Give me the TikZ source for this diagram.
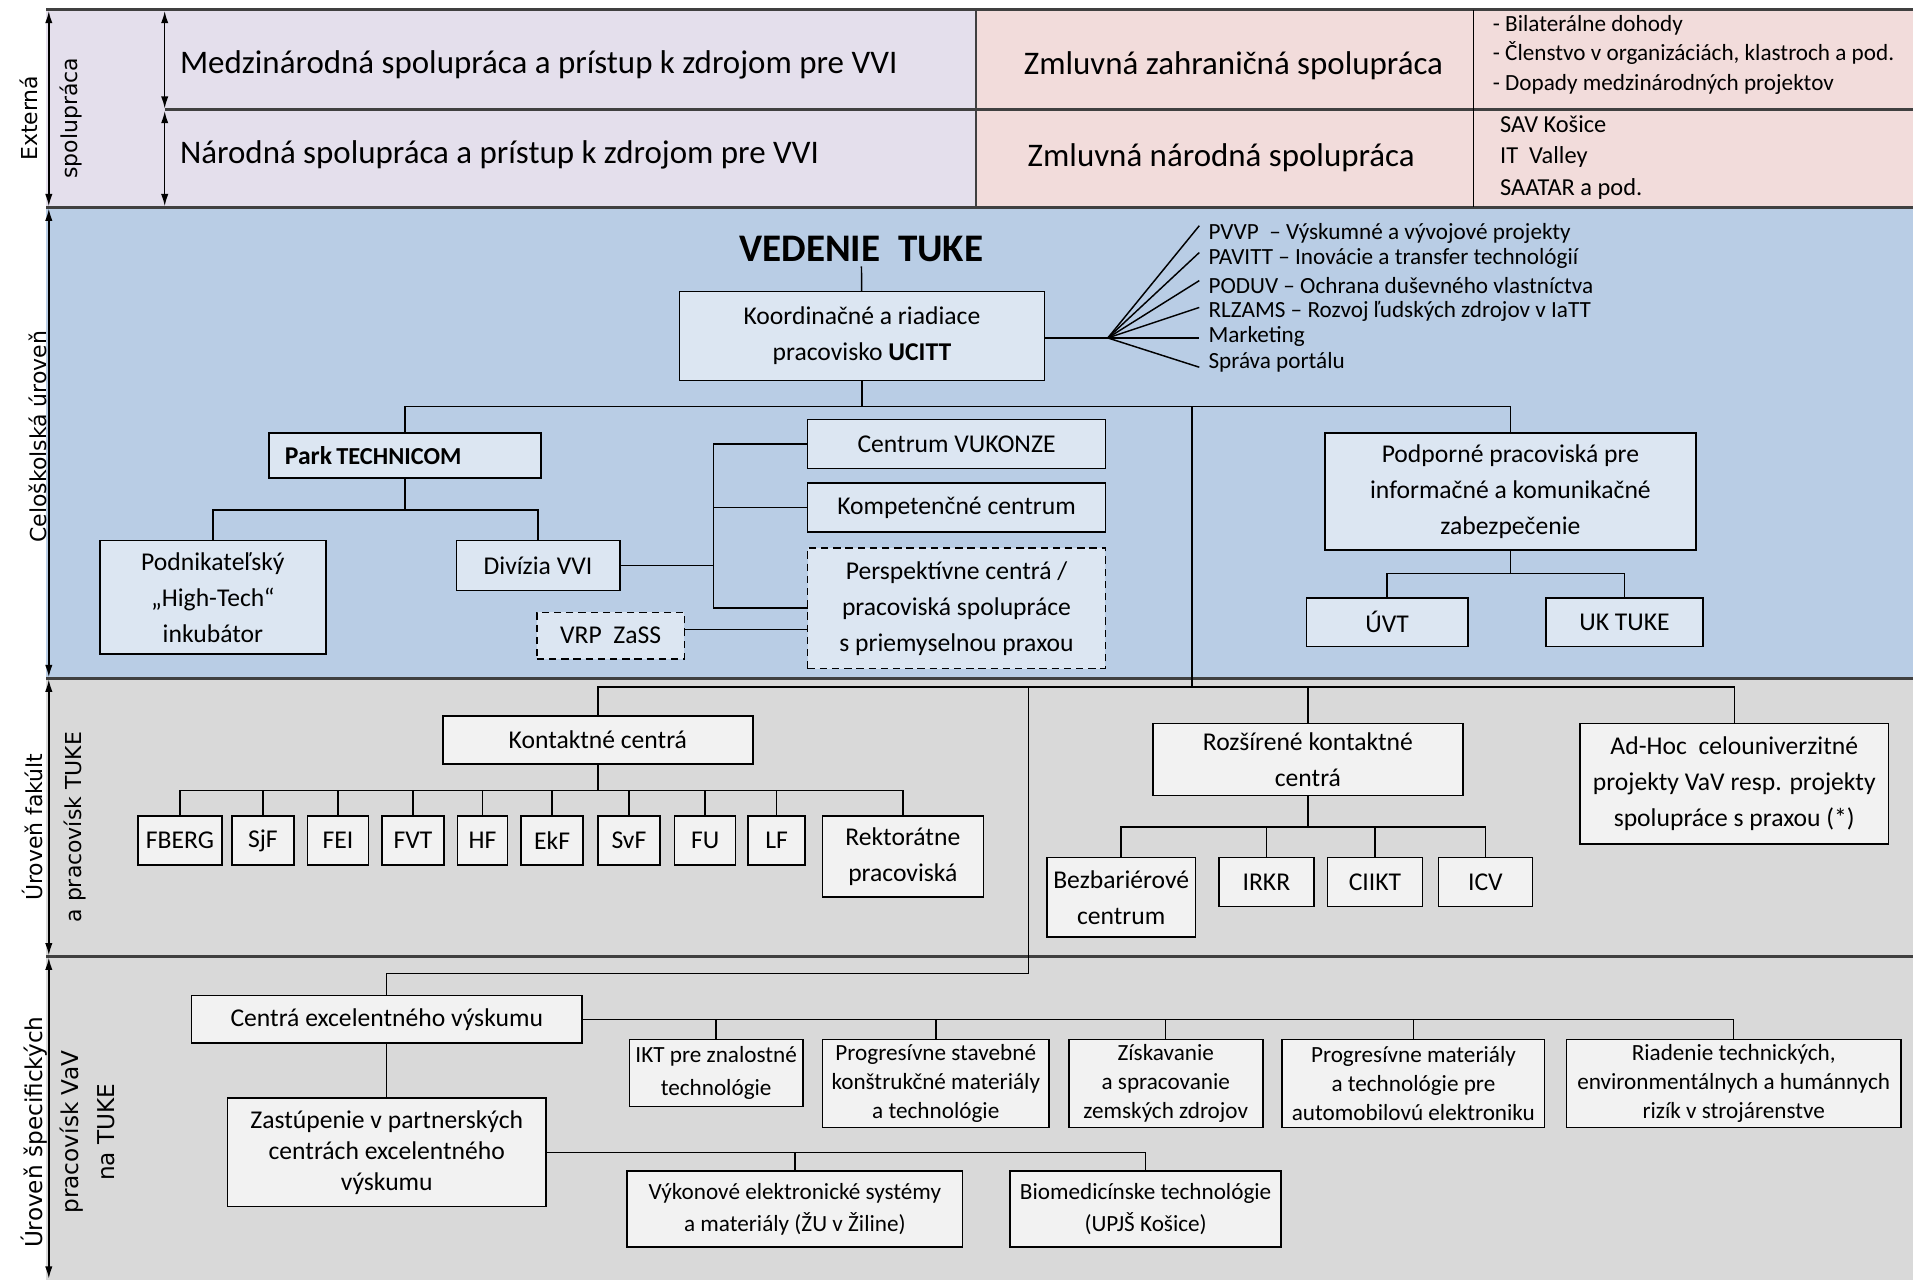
\documentclass[tikz,border=0pt]{standalone}
\usepackage{fontspec}
\setmainfont{Carlito}
\newfontfamily\sidefont{DejaVu Sans}
\usetikzlibrary{positioning, arrows.meta}
\tikzset{every picture/.style={line width=1.2pt}}
\definecolor{ext-lav}{RGB}{228,223,236}
\definecolor{ext-pink}{RGB}{242,220,219}
\definecolor{cel-blue}{RGB}{185,205,229}
\definecolor{fak-gray}{RGB}{217,217,217}
\definecolor{box-blue}{RGB}{220,230,242}
\definecolor{box-gray}{RGB}{242,242,242}
\definecolor{line-gray}{RGB}{64,64,64}

\begin{document}
\begin{tikzpicture}
    [x=1pt, y=-1pt,
    rect/.style = {rectangle, draw, align=center, inner sep=0pt, outer sep=0pt,
            line width=1.3pt, fill=box-blue, font=\fontsize{21}{29.5}\selectfont},
    grect/.style = {rect, fill=box-gray},
    small-txt/.style = {font=\fontsize{19}{23.5}\selectfont},
    dash-box/.style = {dash pattern=on 6pt off 4pt},
    band-line/.style = {draw=line-gray, line width=2.6pt},
    lvl-arrow/.style = {{Latex[length=10pt,width=6pt]}-{Latex[length=10pt,width=6pt]}, line width=1.2pt},
    side-lbl/.style = {rotate=90, align=center, inner sep=0pt},
    txt/.style = {inner sep=0pt},
    fan-lbl/.style = {anchor=west, inner sep=0pt, font=\fontsize{19}{21}\selectfont},
    ]
    \useasboundingbox (0,0) rectangle (1568,1049.2);

    % bands
    \fill[ext-lav] (38,8) rectangle (800,170);
    \fill[ext-pink] (800,8) rectangle (1568,170);
    \fill[cel-blue] (38,170) rectangle (1568,556);
    \fill[fak-gray] (38,556) rectangle (1568,1049.2);
    \draw[band-line] (38,8) -- (1568,8);
    \draw[band-line] (135,90) -- (1568,90);
    \draw[band-line] (38,170) -- (1568,170);
    \draw[band-line] (38,556) -- (1568,556);
    \draw[band-line] (38,784) -- (1568,784);
    \draw[line-gray, line width=2pt] (800,8) -- (800,170);
    \draw[line width=1pt] (1208,8) -- (1208,170);

    \draw[lvl-arrow] (40,9) -- (40,169);
    \draw[lvl-arrow] (135,9) -- (135,89);
    \draw[lvl-arrow] (135,91) -- (135,169);
    \draw[lvl-arrow] (40,171) -- (40,555);
    \draw[lvl-arrow] (40,557) -- (40,783);
    \draw[lvl-arrow] (40,785) -- (40,1048);

    \node[side-lbl, font=\sidefont\fontsize{18}{33}\selectfont] (ext-lbl) at (42,97) {Externá\\spolupráca};
    \node[side-lbl, font=\sidefont\fontsize{18}{22}\selectfont] (cel-lbl) at (31,358) {Celoškolská úroveň};
    \node[side-lbl, font=\sidefont\fontsize{18}{32}\selectfont] (fak-lbl) at (44,678) {Úroveň fakúlt\\a pracovísk TUKE};
    \node[side-lbl, font=\sidefont\fontsize{19}{29.5}\selectfont] (spec-lbl) at (56,928) {Úroveň špecifických\\pracovísk VaV\\na TUKE};

    % externa spolupraca
    \node[txt, anchor=west, font=\fontsize{27}{30}\selectfont] (medz-txt) at (147,53) {Medzinárodná spolupráca a prístup k zdrojom pre VVI};
    \node[txt, anchor=west, font=\fontsize{27}{30}\selectfont] (nar-txt) at (147,127) {Národná spolupráca a prístup k zdrojom pre VVI};
    \node[txt, font=\fontsize{27}{30}\selectfont] (zahr-txt) at (1011,54) {Zmluvná zahraničná spolupráca};
    \node[txt, font=\fontsize{27}{30}\selectfont] (narz-txt) at (1001,129) {Zmluvná národná spolupráca};
    \node[txt, anchor=west, align=left, font=\fontsize{19}{24}\selectfont] (zahr-list) at (1223,45) {- Bilaterálne dohody\\- Členstvo v organizáciách, klastroch a pod.\\- Dopady medzinárodných projektov};
    \node[txt, anchor=west, align=left, font=\fontsize{20}{26}\selectfont] (narz-list) at (1229,129) {SAV Košice\\IT\ \ Valley\\SAATAR a pod.};

    % celoskolska uroven
    \node[font=\bfseries\fontsize{32}{36}\selectfont] (vedenie) at (706,204) {VEDENIE\ \ TUKE};
    \node[rect, minimum width=299pt, minimum height=73pt] (ucitt) at (706.5,275.5) {Koordinačné a riadiace\\pracovisko \textbf{UCITT}};
    \draw (vedenie) -- (ucitt);

    \coordinate (fan) at (908,277);
    \draw (ucitt.east |- fan) -- (fan);
    \node[fan-lbl] (pvvp) at (990,191) {PVVP\ \ – Výskumné a vývojové projekty};
    \node[fan-lbl] (pavitt) at (990,212) {PAVITT – Inovácie a transfer technológií};
    \node[fan-lbl] (poduv) at (990,234) {PODUV – Ochrana duševného vlastníctva};
    \node[fan-lbl] (rlzams) at (990,255) {RLZAMS – Rozvoj ľudských zdrojov v IaTT};
    \node[fan-lbl] (market) at (990,276) {Marketing};
    \node[fan-lbl] (portal) at (990,297) {Správa portálu};
    \foreach \l/\dy in {pvvp/6, pavitt/5, poduv/4, rlzams/3, market/-1, portal/-4}
        \draw (fan) -- ([shift={(-7pt,\dy pt)}]\l.west);

    \coordinate (j-top) at (706.5,333);
    \draw (ucitt) -- (j-top);
    \node[rect, minimum width=223pt, minimum height=37pt, text width=197pt, align=left] (park) at (332,373.5) {\textbf{Park}\,{\bfseries\fontsize{20}{22}\selectfont TECHNICOM}};
    \node[rect, minimum width=304pt, minimum height=96pt] (podporne) at (1238,403) {Podporné pracoviská pre\\informačné a komunikačné\\zabezpečenie};
    \draw (park.north) |- (j-top) -| (podporne.north);

    \coordinate (j-cel) at (977,333);
    \coordinate (j-fak) at (977,563);
    \draw (j-cel) -- (j-fak);

    \node[rect, minimum width=185pt, minimum height=93pt] (podnik) at (174.5,489.5) {Podnikateľský\\„High-Tech“\\inkubátor};
    \node[rect, minimum width=134pt, minimum height=41pt] (divizia) at (441,463.5) {Divízia VVI};
    \coordinate (j-park) at (332,418);
    \draw (park) -- (j-park);
    \draw (podnik.north) |- (j-park) -| (divizia.north);

    \node[rect, minimum width=244pt, minimum height=40pt] (vukonze) at (784,364) {Centrum VUKONZE};
    \node[rect, minimum width=244pt, minimum height=40pt, below=12pt of vukonze] (kompet) {Kompetenčné centrum};
    \node[rect, dash-box, minimum width=244pt, minimum height=99pt, below=13pt of kompet] (persp) {Perspektívne centrá /\\pracoviská spolupráce\\s priemyselnou praxou};
    \coordinate (j-div) at (585,463.5);
    \draw (divizia) -- (j-div);
    \draw (j-div) |- (vukonze.west);
    \draw (j-div) |- (kompet.west);
    \draw (j-div) |- (persp.west);

    \node[rect, dash-box, minimum width=121pt, minimum height=38pt] (vrp) at (500.5,521) {VRP\ \ ZaSS};
    \draw ([yshift=5pt]vrp.east) -- ([yshift=5pt]vrp.east -| persp.west);

    \node[rect, minimum width=132pt, minimum height=40pt] (uvt) at (1137,510) {ÚVT};
    \node[rect, minimum width=129pt, minimum height=40pt] (uktuke) at (1331.5,510) {UK TUKE};
    \coordinate (j-ikt) at (1238,470);
    \draw (podporne) -- (j-ikt);
    \draw (uvt.north) |- (j-ikt) -| (uktuke.north);

    % uroven fakult
    \node[grect, minimum width=254pt, minimum height=39pt] (kontakt) at (490,606.5) {Kontaktné centrá};
    \node[grect, minimum width=254pt, minimum height=59pt] (rozsir) at (1072,622.5) {Rozšírené kontaktné\\centrá};
    \node[grect, minimum width=253pt, minimum height=99pt] (adhoc) at (1421.5,642.5) {Ad-Hoc\ \ celouniverzitné\\projekty VaV resp. projekty\\spolupráce s praxou (*)};
    \draw (kontakt.north) |- (j-fak) -| (adhoc.north);
    \draw (rozsir.north) -- (rozsir.north |- j-fak);
    \coordinate (j-exc) at (843,563);

    \node[grect, minimum width=69pt, minimum height=40pt] (fberg) at (147.5,689) {FBERG};
    \node[grect, minimum width=51pt, minimum height=40pt, right=8pt of fberg] (sjf) {SjF};
    \node[grect, minimum width=50pt, minimum height=40pt, right=11pt of sjf] (fei) {FEI};
    \node[grect, minimum width=51pt, minimum height=40pt, right=11pt of fei] (fvt) {FVT};
    \node[grect, minimum width=41pt, minimum height=40pt, right=11pt of fvt] (hf) {HF};
    \node[grect, minimum width=51pt, minimum height=40pt, right=11pt of hf] (ekf) {EkF};
    \node[grect, minimum width=51pt, minimum height=40pt, right=12pt of ekf] (svf) {SvF};
    \node[grect, minimum width=50pt, minimum height=40pt, right=12pt of svf] (fu) {FU};
    \node[grect, minimum width=47pt, minimum height=40pt, right=10pt of fu] (lf) {LF};
    \node[grect, minimum width=132pt, minimum height=66pt, right=14pt of lf.north east, anchor=north west] (rekt) {Rektorátne\\pracoviská};
    \coordinate (j-kc) at (490,648);
    \draw (kontakt) -- (j-kc);
    \foreach \f in {fberg, sjf, fei, fvt, hf, ekf, svf, fu, lf, rekt}
        \draw (j-kc) -| (\f.north);

    \node[grect, minimum width=122pt, minimum height=65pt] (bezbar) at (919,735.5) {Bezbariérové\\centrum};
    \node[grect, minimum width=78pt, minimum height=40pt] (irkr) at (1038,723) {IRKR};
    \node[grect, minimum width=78pt, minimum height=40pt, right=11pt of irkr] (ciikt) {CIIKT};
    \node[grect, minimum width=77pt, minimum height=40pt, right=13pt of ciikt] (icv) {ICV};
    \coordinate (j-roz) at (1072,678);
    \draw (rozsir) -- (j-roz);
    \foreach \r in {bezbar, irkr, ciikt, icv}
        \draw (j-roz) -| (\r.north);

    % specificke pracoviska
    \node[grect, minimum width=320pt, minimum height=39pt] (cev) at (317,835.5) {Centrá excelentného výskumu};
    \draw (j-exc) -- ++(0,235) -| (cev.north);

    \node[grect, font=\fontsize{19}{27}\selectfont, minimum width=142pt, minimum height=55pt, anchor=north] (ikt) at (587,852) {IKT pre znalostné\\technológie};
    \node[grect, small-txt, minimum width=186pt, minimum height=72pt, right=16pt of ikt.north east, anchor=north west] (stav) {Progresívne stavebné\\konštrukčné materiály\\a technológie};
    \node[grect, small-txt, minimum width=159pt, minimum height=72pt, right=16pt of stav.north east, anchor=north west] (zisk) {Získavanie\\a spracovanie\\zemských zdrojov};
    \node[grect, small-txt, minimum width=215pt, minimum height=72pt, right=16pt of zisk.north east, anchor=north west] (mat) {Progresívne materiály\\a technológie pre\\automobilovú elektroniku};
    \node[grect, small-txt, minimum width=274pt, minimum height=72pt, right=18pt of mat.north east, anchor=north west] (riad) {Riadenie technických,\\environmentálnych a humánnych\\rizík v strojárenstve};
    \draw (cev.east) -| (riad.north);
    \foreach \e in {ikt, stav, zisk, mat}
        \draw (\e.north) -- (\e.north |- cev.east);

    \node[grect, font=\fontsize{21}{25.5}\selectfont, minimum width=261pt, minimum height=89pt, below=45pt of cev] (zast) {Zastúpenie v partnerských\\centrách excelentného\\výskumu};
    \draw (cev) -- (zast);
    \node[grect, font=\fontsize{19}{26}\selectfont, minimum width=275pt, minimum height=62pt] (vykon) at (651.5,991) {Výkonové elektronické systémy\\a materiály (ŽU v Žiline)};
    \node[grect, font=\fontsize{19}{26}\selectfont, minimum width=222pt, minimum height=62pt, right=39pt of vykon] (bio) {Biomedicínske technológie\\(UPJŠ Košice)};
    \draw (zast.east) -| (bio.north);
    \draw (vykon.north) -- (vykon.north |- zast.east);
\end{tikzpicture}
\end{document}
